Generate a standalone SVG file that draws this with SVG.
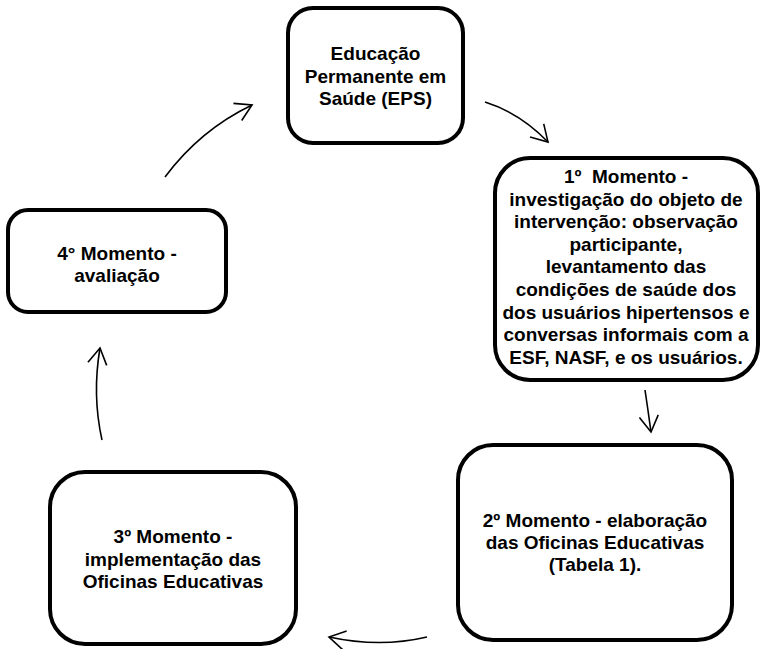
<svg xmlns="http://www.w3.org/2000/svg" width="763" height="649" viewBox="0 0 763 649">
<style>
.box{fill:#fff;stroke:#000;stroke-width:4}
.t{font-family:"Liberation Sans",Arial,sans-serif;font-weight:bold;font-size:19px;fill:#000;text-anchor:middle;white-space:pre}
.c{fill:none;stroke:#000;stroke-width:1.6;marker-end:url(#ah)}
</style>
<defs>
<marker id="ah" markerUnits="userSpaceOnUse" orient="auto" refX="0" refY="0" markerWidth="40" markerHeight="40" viewBox="-20 -20 40 40" overflow="visible">
<path d="M-16,-9.5 L0,0 L-16,9.5" fill="none" stroke="#000" stroke-width="1.6"/>
</marker>
</defs>
<rect width="763" height="649" fill="#fff"/>
<g id="connectors">
<path class="c" d="M165,177 Q200,130 252,105"/>
<path class="c" d="M485,102 Q520,113 548,142"/>
<path class="c" d="M645,390 Q648,410 651,432"/>
<path class="c" d="M427,637 Q380,648 329,637"/>
<path class="c" d="M102,440 Q92,395 100,348"/>
</g>
<g id="eps">
<rect class="box" x="288" y="8" width="175" height="135" rx="25"/>
<text class="t" x="375.5" y="60">Educação</text>
<text class="t" x="375.5" y="82.5">Permanente em</text>
<text class="t" x="375.5" y="105">Saúde (EPS)</text>
</g>
<g id="m1">
<rect class="box" x="495" y="158" width="263" height="222" rx="35"/>
<text class="t" x="626" y="183">1º  Momento -</text>
<text class="t" x="626" y="205.6">investigação do objeto de</text>
<text class="t" x="626" y="228.2">intervenção: observação</text>
<text class="t" x="626" y="250.8">participante,</text>
<text class="t" x="626" y="273.4">levantamento das</text>
<text class="t" x="626" y="296">condições de saúde dos</text>
<text class="t" x="626" y="318.6">dos usuários hipertensos e</text>
<text class="t" x="626" y="341.2">conversas informais com a</text>
<text class="t" x="626" y="363.8">ESF, NASF, e os usuários.</text>
</g>
<g id="m2">
<rect class="box" x="458" y="445" width="274" height="195" rx="35"/>
<text class="t" x="595" y="527">2º Momento - elaboração</text>
<text class="t" x="595" y="549">das Oficinas Educativas</text>
<text class="t" x="595" y="571">(Tabela 1).</text>
</g>
<g id="m3">
<rect class="box" x="50" y="472" width="246" height="172" rx="35"/>
<text class="t" x="173" y="543">3º Momento -</text>
<text class="t" x="173" y="565.5">implementação das</text>
<text class="t" x="173" y="588">Oficinas Educativas</text>
</g>
<g id="m4">
<rect class="box" x="8" y="210" width="218" height="102" rx="20"/>
<text class="t" x="117" y="260">4° Momento -</text>
<text class="t" x="117" y="282">avaliação</text>
</g>
</svg>
